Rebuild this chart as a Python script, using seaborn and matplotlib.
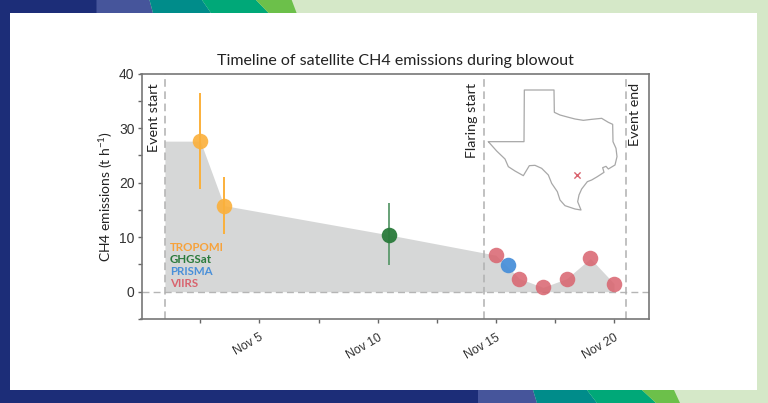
import matplotlib
matplotlib.use("Agg")
import matplotlib.pyplot as plt
from matplotlib.patches import Polygon
import pandas as pd
import seaborn as sns

# day of November (fractions allowed) and emissions in t/h
tropomi_days = [2.5, 3.5]
tropomi_vals = [27.6, 15.8]
tropomi_low = [18.8, 10.6]
tropomi_high = [36.5, 21.0]

ghgsat_days = [10.5]
ghgsat_vals = [10.4]
ghgsat_low = [4.9]
ghgsat_high = [16.2]

prisma_days = [15.5]
prisma_vals = [4.9]

viirs_days = [15, 16, 17, 18, 19, 20]
viirs_vals = [6.7, 2.4, 0.8, 2.4, 6.1, 1.5]

envelope_days = [1, 2.5, 3.5, 10.5, 15, 16, 17, 18, 19, 20]
envelope_vals = [27.6, 27.6, 15.8, 10.4, 6.7, 2.4, 0.8, 2.4, 6.1, 1.5]

event_lines = [1, 14.5, 20.5]
event_labels = ["Event start", "Flaring start", "Event end"]

tick_days = [2.5, 5, 7.5, 10, 12.5, 15, 17.5, 20]
tick_labels = ["", "Nov 5", "", "Nov 10", "", "Nov 15", "", "Nov 20"]

sensor_names = ["TROPOMI", "GHGSat", "PRISMA", "VIIRS"]
sensor_colors = ["#fbb03b", "#2a7a3b", "#4a90d9", "#d9636e"]
text_colors = ["#f7a23b", "#2a7a3b", "#4a90d9", "#d9636e"]

# Texas outline, in map units
texas_x = [25, 132, 133, 222, 223, 240, 262, 285, 310, 335, 365, 385, 398, 399, 408, 411,
           405, 385, 378, 368, 372, 352, 335, 322, 305, 297, 293, 303, 285, 255, 240, 232,
           215, 205, 185, 165, 148, 130, 105, 85, 75, 50, 25]
texas_y = [170, 170, 15, 15, 82, 90, 96, 102, 106, 103, 100, 112, 118, 170, 190, 215,
           240, 252, 244, 248, 262, 275, 285, 290, 312, 330, 350, 375, 372, 362, 345, 320,
           295, 270, 250, 241, 242, 272, 258, 245, 222, 198, 170]
site_x = [291]
site_y = [271]


def nov(days):
    return pd.Timestamp("2019-11-01") + pd.to_timedelta(pd.Series(days, dtype=float) - 1, unit="D")


sns.set_theme(style="ticks")
plt.rcParams["font.family"] = ["Liberation Sans", "DejaVu Sans"]
plt.rcParams["mathtext.default"] = "regular"

W, H = 768, 403
fig = plt.figure(figsize=(W / 100, H / 100), dpi=100, facecolor="#d5e8c8")

# page banner
bg = fig.add_axes([0, 0, 1, 1], zorder=0)
bg.set_xlim(0, W)
bg.set_ylim(H, 0)
bg.axis("off")
top_cols = ["#1c2d78", "#46559b", "#008c8a", "#00a878", "#6cc04a"]
top_edges = [(0, 0), (96.5, 96.5), (149.5, 153), (202, 211), (256, 268.6), (291.7, 296.6)]
for i, c in enumerate(top_cols):
    bg.add_patch(Polygon([(top_edges[i][0], 0), (top_edges[i + 1][0], 0),
                          (top_edges[i + 1][1], 13), (top_edges[i][1], 13)], color=c, lw=0))
bot_edges = [(0, 0), (478, 478), (533, 537), (587, 597), (642, 656), (674, 680)]
for i, c in enumerate(top_cols):
    bg.add_patch(Polygon([(bot_edges[i][0], 390), (bot_edges[i + 1][0], 390),
                          (bot_edges[i + 1][1], 403), (bot_edges[i][1], 403)], color=c, lw=0))
bg.add_patch(Polygon([(0, 0), (10, 0), (10, 403), (0, 403)], color="#1c2d78", lw=0))
bg.add_patch(Polygon([(10, 13), (757, 13), (757, 390), (10, 390)], color="white", lw=0))

# main axes
ax = fig.add_axes([141.5 / W, 1 - 319 / H, (649 - 141.5) / W, (319 - 73.5) / H], zorder=1)
ax.set_facecolor("white")

ax.fill_between(nov(envelope_days), 0, envelope_vals, color="#d6d7d7", lw=0, zorder=1)
ax.axhline(0, color="#b5b5b5", lw=1, ls=(0, (5, 3)), zorder=2)
for d in event_lines:
    ax.axvline(nov([d])[0], color="#b0b0b0", lw=1.1, ls=(0, (5, 3)), zorder=2)

ax.vlines(nov(tropomi_days), tropomi_low, tropomi_high, color=sensor_colors[0], lw=1.4, zorder=3)
ax.vlines(nov(ghgsat_days), ghgsat_low, ghgsat_high, color="#5c9a6c", lw=1.3, zorder=3)

for days, vals, col, a in [(tropomi_days, tropomi_vals, sensor_colors[0], 0.9),
                           (ghgsat_days, ghgsat_vals, sensor_colors[1], 0.95),
                           (viirs_days, viirs_vals, sensor_colors[3], 0.85),
                           (prisma_days, prisma_vals, sensor_colors[2], 0.95)]:
    sns.scatterplot(x=nov(days), y=vals, color=col, s=125, alpha=a, linewidth=0, ax=ax, zorder=4)

ax.set_xlim(nov([0.01])[0], nov([21.48])[0])
ax.set_ylim(-5, 40)
ax.set_xticks(nov(tick_days))
ax.set_xticklabels(tick_labels, rotation=30, ha="right", rotation_mode="anchor", color="#333333", fontsize=8.8)
ax.set_yticks([0, 10, 20, 30, 40])
ax.set_yticks([-5, 5, 15, 25, 35], minor=True)
ax.tick_params(axis="both", which="both", color="#666666", width=1, length=3, labelsize=10, labelcolor="#333333")
ax.tick_params(axis="x", labelsize=8.8, pad=6)
ax.tick_params(axis="y", pad=2)
for s in ax.spines.values():
    s.set_color("#777777")
    s.set_linewidth(1.2)
ax.set_xlabel("")
ax.set_ylabel("CH4 emissions (t h$^{-1}$)", fontsize=10, color="#222222", family="Lato", labelpad=3)
ax.set_title("Timeline of satellite CH4 emissions during blowout", fontsize=11.5, color="#222222",
             family="Lato", pad=6)

label_offsets = [-0.46, -0.5, 0.38]
for d, lab, off in zip(event_lines, event_labels, label_offsets):
    ax.text(nov([d + off])[0], 38.2, lab, rotation=90, va="top", ha="center", fontsize=10.3,
            family="Lato", color="#222222", zorder=5)

for i, (name, col) in enumerate(zip(sensor_names, text_colors)):
    ax.text(0.056, 0.29 - i * 0.049, name, transform=ax.transAxes, color=col, fontsize=8.3,
            family="Lato", fontweight="bold", va="center", ha="left", zorder=5)

# Texas locator map
ins = fig.add_axes([480 / W, 1 - 215 / H, 145 / W, 130 / H], zorder=2)
ins.patch.set_alpha(0)
ins.plot(texas_x, texas_y, color="#a8a8a8", lw=0.9)
ins.scatter(site_x, site_y, marker="x", s=20, color=sensor_colors[3], linewidths=1, zorder=3)
ins.set_xlim(0, 435)
ins.set_ylim(390, 0)
ins.axis("off")

fig.savefig("out.png", dpi=100, facecolor=fig.get_facecolor())
